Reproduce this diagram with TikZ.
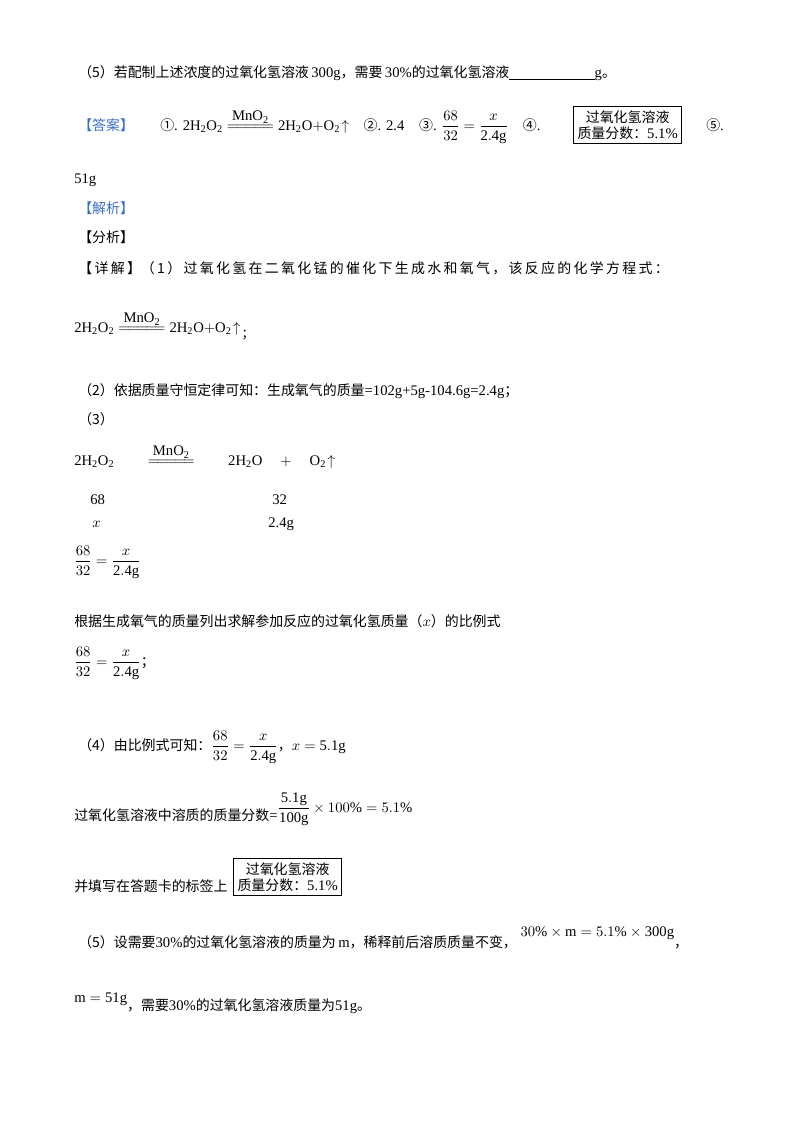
\documentclass[tikz,border=0pt]{standalone}
\usepackage{fontspec}
\usepackage{amsmath}
\setmainfont{Liberation Serif}
\newfontfamily\cjk{Noto Sans CJK SC}[Scale=0.95]
\newcommand{\C}[1]{{\cjk #1}}
\newcommand{\cat}{\mathrel{\overset{\textstyle\mathrm{MnO_2}}{=\!=\!=\!=\!=}}}
\newcommand{\rxn}{$\mathrm{2H_2O_2}\cat\mathrm{2H_2O{+}O_2}\!\uparrow$}
\definecolor{tagblue}{HTML}{3B6FC4}
\tikzset{txt/.style={anchor=base west,inner sep=0pt,font=\fontsize{11pt}{13pt}\selectfont},
 tag/.style={txt,text=tagblue},
 lbl/.style={draw,line width=0.8pt,inner sep=3pt,align=center,font=\fontsize{11pt}{13pt}\selectfont}}
\begin{document}
\begin{tikzpicture}[x=0.75pt,y=-0.75pt]
\useasboundingbox[fill=white] (0,0) rectangle (800,1132);
\node[txt] (l1) at (78,77) {\C{（5）若配制上述浓度的过氧化氢溶液}\,300g\C{，需要}\,30\%\C{的过氧化氢溶液}\underline{\hspace{64pt}}g\C{。}};
\node[tag] (ans) at (78,130) {\C{【答案】}};
\node[txt] (a1) at (160,130) {\C{①}. \rxn\quad \C{②}. 2.4\quad \C{③}. $\dfrac{68}{32}=\dfrac{x}{\mathrm{2.4g}}$\quad \C{④}.};
\node[lbl,anchor=west] (box1) at (573,125) {\C{过氧化氢溶液}\\[-1pt]\C{质量分数：}5.1\%};
\node[txt] (a5) at (706,130) {\C{⑤}.};
\node[txt] (a6) at (74,183) {51g};
\node[tag] (jx) at (78,213) {\C{【解析】}};
\node[txt] (fx) at (78,242) {\C{【分析】}};
\node[txt] (xj) at (78,273) {\C{【\,详\,解\,】（\,1\,）\,过\,氧\,化\,氢\,在\,二\,氧\,化\,锰\,的\,催\,化\,下\,生\,成\,水\,和\,氧\,气\,，\,该\,反\,应\,的\,化\,学\,方\,程\,式\,：}};
\node[txt] (e1) at (74,332) {\rxn\,\raisebox{-4pt}{\C{;}}};
\node[txt] (s2) at (78,395) {\C{（2）依据质量守恒定律可知：生成氧气的质量}=102g+5g-104.6g=2.4g\C{；}};
\node[txt] (s3) at (78,424) {\C{（3）}};
\node[txt] (e3) at (74,465) {$\mathrm{2H_2O_2}\qquad\cat\qquad\mathrm{2H_2O}\quad+\quad\mathrm{O_2}\!\uparrow$};
\node[txt] (n68) at (90,504) {68};
\node[txt] (n32) at (272,504) {32};
\node[txt] (nx) at (92,527) {$x$};
\node[txt] (n24) at (268,527) {2.4g};
\node[txt] (f1) at (74,565) {$\dfrac{68}{32}=\dfrac{x}{\mathrm{2.4g}}$};
\node[txt] (gj) at (74,626) {\C{根据生成氧气的质量列出求解参加反应的过氧化氢质量（}$x$\C{）的比例式}};
\node[txt] (f2) at (74,666) {$\dfrac{68}{32}=\dfrac{x}{\mathrm{2.4g}}$\C{；}};
\node[txt] (s4) at (78,750) {\C{（4）由比例式可知：}$\dfrac{68}{32}=\dfrac{x}{\mathrm{2.4g}}$\C{，}$x=\mathrm{5.1g}$};
\node[txt] (s4b) at (74,820) {\C{过氧化氢溶液中溶质的质量分数}=\raisebox{6pt}{$\dfrac{\mathrm{5.1g}}{\mathrm{100g}}\times100\%=5.1\%$}};
\node[txt] (tx) at (74,891) {\C{并填写在答题卡的标签上}};
\node[lbl,anchor=west] (box2) at (233,877) {\C{过氧化氢溶液}\\[-1pt]\C{质量分数：}5.1\%};
\node[txt] (s5) at (78,947) {\C{（5）设需要}30\%\C{的过氧化氢溶液的质量为}\,m\C{，稀释前后溶质质量不变，}\ \raisebox{8pt}{$30\%\times\mathrm{m}=5.1\%\times\mathrm{300g}$}\C{，}};
\node[txt] (s5b) at (74,1010) {\raisebox{6pt}{$\mathrm{m}=\mathrm{51g}$}\C{，需要}30\%\C{的过氧化氢溶液质量为}51g\C{。}};
\end{tikzpicture}
\end{document}
